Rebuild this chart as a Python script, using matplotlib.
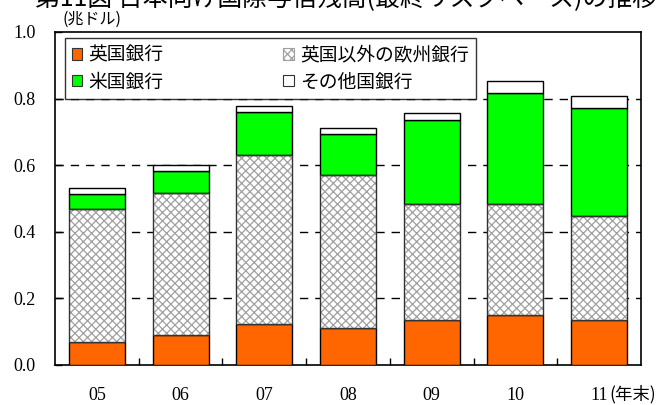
import numpy as np
import matplotlib
matplotlib.use('Agg')
import matplotlib.pyplot as plt
from matplotlib.patches import Patch
from matplotlib.ticker import FixedLocator

# values (trillion USD, cumulative tops converted to layers)
years = ['05', '06', '07', '08', '09', '10', '11']
uk_banks = [0.070, 0.090, 0.123, 0.112, 0.135, 0.151, 0.135]
other_europe = [0.397, 0.425, 0.509, 0.458, 0.347, 0.332, 0.312]
us_banks = [0.045, 0.068, 0.127, 0.123, 0.253, 0.335, 0.325]
other_banks = [0.020, 0.018, 0.019, 0.019, 0.023, 0.036, 0.036]

labels = ['英国銀行', '英国以外の欧州銀行', '米国銀行', 'その他国銀行']
yticks = [0.0, 0.2, 0.4, 0.6, 0.8, 1.0]

plt.rcParams['font.family'] = ['Noto Sans CJK JP', 'DejaVu Sans']
plt.rcParams['hatch.linewidth'] = 0.9

fig = plt.figure(figsize=(6.62, 4.05), dpi=100)
ax = fig.add_axes([0.0831, 0.0988, 0.8852, 0.8222])

x = np.arange(len(years))
w = 0.67
b1 = np.array(uk_banks)
b2 = b1 + np.array(other_europe)
b3 = b2 + np.array(us_banks)

ax.bar(x, uk_banks, w, color='#FF6600', edgecolor='black', linewidth=1, zorder=3)
# hatched layer: pattern first, then the black outline on top
ax.bar(x, other_europe, w, bottom=b1, color='white', edgecolor='#a0a0a0',
       hatch='xxxx', linewidth=0, zorder=3)
ax.bar(x, other_europe, w, bottom=b1, fill=False, edgecolor='#333333',
       linewidth=1, zorder=4)
ax.bar(x, us_banks, w, bottom=b2, color='#00FF00', edgecolor='black', linewidth=1, zorder=3)
ax.bar(x, other_banks, w, bottom=b3, color='white', edgecolor='black', linewidth=1, zorder=3)

ax.set_xlim(-0.5, len(years) - 0.5)
ax.set_ylim(0, 1.0)

ax.set_xticks(x)
ax.set_xticklabels(years, family='Liberation Serif', fontsize=13)
ax.xaxis.set_minor_locator(FixedLocator(x[:-1] + 0.5))
ax.tick_params(axis='x', which='major', length=0, pad=16)
ax.tick_params(axis='x', which='minor', direction='in', length=5, width=1)

ax.set_yticks(yticks)
ax.set_yticklabels([f'{v:.1f}' for v in yticks], family='Liberation Serif', fontsize=13)
ax.tick_params(axis='y', direction='in', length=5, width=1, pad=14)

for v in yticks[1:-1]:
    ax.axhline(v, color='black', linewidth=1, linestyle=(0, (6, 5)), zorder=1)

for s in ax.spines.values():
    s.set_linewidth(1.2)
    s.set_color('black')

# legend fills column by column, so order as uk, us | europe, other
handles = [
    Patch(facecolor='#FF6600', edgecolor='#333333', linewidth=0.8),
    Patch(facecolor='#00FF00', edgecolor='#333333', linewidth=0.8),
    Patch(facecolor='white', edgecolor='#a0a0a0', hatch='xxxx', linewidth=0.8),
    Patch(facecolor='white', edgecolor='#333333', linewidth=0.8),
]
leg_labels = [labels[0], labels[2], labels[1], labels[3]]
leg = ax.legend(handles, leg_labels, ncol=2, loc='upper left',
                bbox_to_anchor=(0.017, 0.982), fontsize=13.5, frameon=True,
                fancybox=False, handlelength=0.55, handleheight=0.55,
                handletextpad=0.35, columnspacing=6.4, labelspacing=0.3,
                borderpad=0.35, borderaxespad=0)
leg.get_frame().set_edgecolor('black')
leg.get_frame().set_linewidth(1)
leg.set_zorder(5)

fig.text(62 / 662, 1 - 19 / 405, '(兆ドル)', fontsize=11.5, va='center', ha='left')
fig.text(609 / 662, (405 - 394) / 405, '(年末)', fontsize=12.5, va='center', ha='left')
# title sits partly above the top edge, as in the source image
fig.text(35 / 662, 1 - 6 / 405, '第11図 日本向け国際与信残高(最終リスクベース)の推移',
         fontsize=17.9, va='baseline', ha='left')

fig.savefig('out.png', dpi=100)
